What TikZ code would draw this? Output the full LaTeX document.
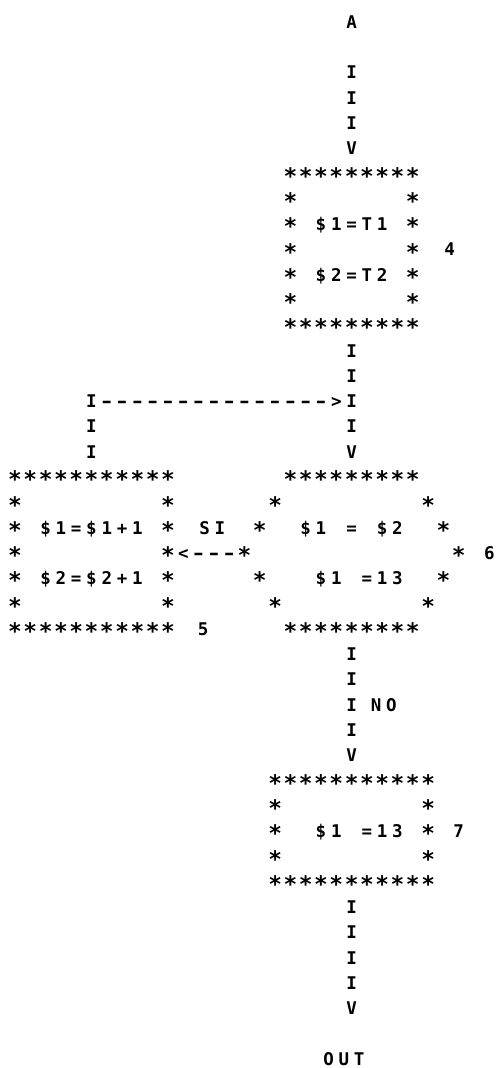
\documentclass[tikz,border=0pt]{standalone}
\usepackage{fontspec}
\setmonofont{DejaVu Sans Mono}
\usepackage{graphicx}
\newlength\cw
\setlength\cw{15.3pt}
\newcommand\starglyph{\raisebox{-4.2pt}{\scalebox{1.3}{*}}}
\newcommand\dashglyph{\scalebox{1.45}[1]{-}}
\newcommand\monochar[1]{\ifx#1*\starglyph\else\ifx#1-\dashglyph\else#1\fi\fi}
\def\monoloop#1{\ifx#1\relax\else\makebox[\cw]{\monochar{#1}}\expandafter\monoloop\fi}
\newcommand\mono[1]{\monoloop#1\relax}
% #1 name, #2 column, #3 row, #4 text
\newcommand\txt[4]{\node[chr] (#1) at ({7.35+15.3*#2},{-(28.1+25.3*#3)}) {\mono{#4}};}
\tikzset{chr/.style={anchor=base west,inner sep=0pt,outer sep=0pt,
  font=\ttfamily\bfseries\fontsize{17.5}{17.5}\selectfont}}
\begin{document}
\begin{tikzpicture}[x=1pt,y=1pt]
\path[fill=white] (0,0) rectangle (496,-1068);
\useasboundingbox (0,0) rectangle (496,-1068);
% entry
\txt{a}{22}{0}{A}
\txt{i2}{22}{2}{I}
\txt{i3}{22}{3}{I}
\txt{i4}{22}{4}{I}
\txt{v5}{22}{5}{V}
% box 4
\txt{bAt}{18}{6}{*********}
\txt{bAl7}{18}{7}{*}\txt{bAr7}{26}{7}{*}
\txt{bAl8}{18}{8}{*}\txt{tA8}{20}{8}{\$1=T1}\txt{bAr8}{26}{8}{*}
\txt{bAl9}{18}{9}{*}\txt{bAr9}{26}{9}{*}\txt{nfour}{28.4}{9}{4}
\txt{bAl10}{18}{10}{*}\txt{tA10}{20}{10}{\$2=T2}\txt{bAr10}{26}{10}{*}
\txt{bAl11}{18}{11}{*}\txt{bAr11}{26}{11}{*}
\txt{bAb}{18}{12}{*********}
\txt{i13}{22}{13}{I}
\txt{i14}{22}{14}{I}
\txt{loop}{5}{15}{I--------------->I}
\txt{li16}{5}{16}{I}\txt{i16}{22}{16}{I}
\txt{li17}{5}{17}{I}\txt{v17}{22}{17}{V}
% box 5 and decision 6
\txt{bBt}{0}{18}{***********}\txt{dt}{18}{18}{*********}
\txt{bBl19}{0}{19}{*}\txt{bBr19}{10}{19}{*}\txt{dl19}{17}{19}{*}\txt{dr19}{27}{19}{*}
\txt{bBl20}{0}{20}{*}\txt{tB20}{2}{20}{\$1=\$1+1}\txt{bBr20}{10}{20}{*}
\txt{si}{12.4}{20}{SI}\txt{dl20}{16}{20}{*}
\txt{dta}{19}{20}{\$1}\txt{dtb}{22}{20}{=}\txt{dtc}{24}{20}{\$2}\txt{dr20}{28}{20}{*}
\txt{bBl21}{0}{21}{*}\txt{yes}{10}{21}{*<---*}\txt{dr21}{29}{21}{*}\txt{nsix}{31}{21}{6}
\txt{bBl22}{0}{22}{*}\txt{tB22}{2}{22}{\$2=\$2+1}\txt{bBr22}{10}{22}{*}
\txt{dl22}{16}{22}{*}\txt{dua}{20}{22}{\$1}\txt{dub}{23}{22}{=13}\txt{dr22}{28}{22}{*}
\txt{bBl23}{0}{23}{*}\txt{bBr23}{10}{23}{*}\txt{dl23}{17}{23}{*}\txt{dr23}{27}{23}{*}
\txt{bBb}{0}{24}{***********}\txt{nfive}{12.3}{24}{5}\txt{db}{18}{24}{*********}
\txt{i25}{22}{25}{I}
\txt{i26}{22}{26}{I}
\txt{i27}{22}{27}{I}\txt{no}{23.6}{27}{NO}
\txt{i28}{22}{28}{I}
\txt{v29}{22}{29}{V}
% box 7
\txt{bCt}{17}{30}{***********}
\txt{bCl31}{17}{31}{*}\txt{bCr31}{27}{31}{*}
\txt{bCl32}{17}{32}{*}\txt{tCa}{20}{32}{\$1}\txt{tCb}{23}{32}{=13}\txt{bCr32}{27}{32}{*}\txt{nseven}{29}{32}{7}
\txt{bCl33}{17}{33}{*}\txt{bCr33}{27}{33}{*}
\txt{bCb}{17}{34}{***********}
\txt{i35}{22}{35}{I}
\txt{i36}{22}{36}{I}
\txt{i37}{22}{37}{I}
\txt{i38}{22}{38}{I}
\txt{v39}{22}{39}{V}
\txt{out}{20.5}{41}{OUT}
\end{tikzpicture}
\end{document}
